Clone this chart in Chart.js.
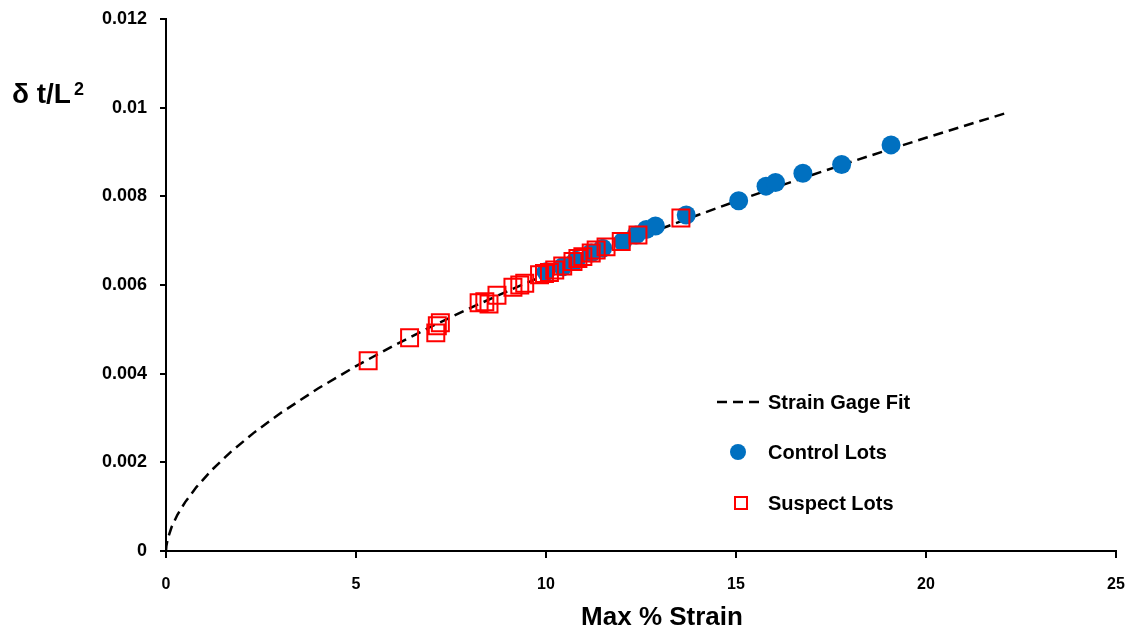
<!DOCTYPE html>
<html lang="en">
<head>
  <meta charset="UTF-8">
  <script src="https://cdn.jsdelivr.net/npm/chart.js"></script>
  <title>Strain</title>
  <style>
    body { margin: 0; background: #fff; }
    #wrap { width: 1130px; height: 628px; }
  </style>
</head>
<body>
  <div id="wrap"><canvas id="grafico"></canvas></div>
<script>
  // fit curve
  var fitX = [0, 0.01, 0.05, 0.15, 0.3, 0.5, 0.8, 1.2, 1.7, 2.3, 3, 4, 5, 6, 7, 8, 9, 10, 11, 12, 13, 14, 15, 16, 17, 18, 19, 20, 21, 22.2];
  var fitY = [0, 0.000114, 0.000289, 0.000546, 0.000816, 0.001097, 0.001441, 0.001823, 0.002231, 0.002659, 0.003102, 0.003665, 0.004171, 0.004636, 0.005070, 0.005478, 0.005866, 0.006235, 0.006590, 0.006931, 0.007260, 0.007579, 0.007889, 0.008189, 0.008482, 0.008768, 0.009048, 0.009320, 0.009588, 0.009902];

  var controlX = [10.0, 10.44, 10.79, 11.19, 11.49, 12.02, 12.37, 12.64, 12.88, 13.69, 15.07, 15.79, 16.04, 16.76, 17.78, 19.08];
  var controlY = [0.00630, 0.00641, 0.00656, 0.00672, 0.00683, 0.00698, 0.00713, 0.00725, 0.00733, 0.00758, 0.00790, 0.00823, 0.00831, 0.00852, 0.00872, 0.00916];

  var suspectX = [5.32, 6.41, 7.10, 7.14, 7.22, 8.24, 8.39, 8.50, 8.71, 9.13, 9.31, 9.44, 9.83, 9.96, 10.09, 10.23, 10.44, 10.71, 10.84, 10.97, 11.19, 11.32, 11.58, 11.98, 12.42, 13.55];
  var suspectY = [0.00429, 0.00481, 0.00492, 0.00508, 0.00515, 0.00560, 0.00562, 0.00557, 0.00577, 0.00595, 0.00600, 0.00604, 0.00623, 0.00626, 0.00628, 0.00634, 0.00643, 0.00653, 0.00660, 0.00664, 0.00672, 0.00679, 0.00686, 0.00698, 0.00713, 0.00751];

  var legendas = ['Strain Gage Fit', 'Control Lots', 'Suspect Lots'];

  var azul = '#0070C0';
  var vermelho = '#FF0000';
  var fonteArial = "'Liberation Sans', Arial, sans-serif";

  function pares(xs, ys) {
    var out = [];
    for (let i = 0; i < xs.length; i++) {
      out.push({ x: xs[i], y: ys[i] });
    }
    return out;
  }

  // titles and legend drawn by hand, Excel style
  var textos = {
    id: 'textos',
    afterDraw: function (chart) {
      var ctx = chart.ctx;
      ctx.save();
      ctx.fillStyle = '#000';
      ctx.textBaseline = 'alphabetic';
      ctx.textAlign = 'left';

      ctx.font = 'bold 28px ' + fonteArial;
      ctx.fillText('δ t/L', 12, 103);
      ctx.font = 'bold 18px ' + fonteArial;
      ctx.fillText('2', 74, 95);

      ctx.font = 'bold 26px ' + fonteArial;
      ctx.textAlign = 'center';
      ctx.fillText('Max % Strain', 662, 625);

      // legend
      ctx.textAlign = 'left';
      ctx.textBaseline = 'middle';
      ctx.font = 'bold 20px ' + fonteArial;

      ctx.strokeStyle = '#000';
      ctx.lineWidth = 2.5;
      ctx.setLineDash([10, 6]);
      ctx.beginPath();
      ctx.moveTo(717, 402);
      ctx.lineTo(763, 402);
      ctx.stroke();
      ctx.setLineDash([]);
      ctx.fillText(legendas[0], 768, 403);

      ctx.fillStyle = azul;
      ctx.beginPath();
      ctx.arc(738, 452, 8, 0, Math.PI * 2);
      ctx.fill();
      ctx.fillStyle = '#000';
      ctx.fillText(legendas[1], 768, 453);

      ctx.strokeStyle = vermelho;
      ctx.lineWidth = 2;
      ctx.strokeRect(735, 497, 12, 12);
      ctx.fillText(legendas[2], 768, 504);
      ctx.restore();
    }
  };

  var dados = {
    datasets: [
      {
        label: legendas[2],
        data: pares(suspectX, suspectY),
        pointStyle: 'rect',
        pointRadius: 12,
        pointBorderWidth: 2,
        pointBorderColor: vermelho,
        pointBackgroundColor: 'rgba(0,0,0,0)',
        order: 1
      },
      {
        label: legendas[1],
        data: pares(controlX, controlY),
        pointStyle: 'circle',
        pointRadius: 9.5,
        pointBorderWidth: 0,
        pointBackgroundColor: azul,
        pointBorderColor: azul,
        order: 2
      },
      {
        label: legendas[0],
        data: pares(fitX, fitY),
        showLine: true,
        pointRadius: 0,
        borderColor: '#000',
        borderWidth: 2.5,
        borderDash: [10, 6],
        tension: 0,
        fill: false,
        order: 3
      }
    ]
  };

  var options = {
    responsive: true,
    maintainAspectRatio: false,
    animation: false,
    layout: { padding: { top: 19, right: 13, left: 0, bottom: 0 } },
    plugins: {
      legend: { display: false },
      tooltip: { enabled: false }
    },
    scales: {
      x: {
        type: 'linear',
        min: 0,
        max: 25,
        ticks: {
          stepSize: 5,
          color: '#000',
          padding: 17,
          font: { family: fonteArial, size: 16, weight: 'bold' }
        },
        grid: { display: true, drawOnChartArea: false, drawTicks: true, tickLength: 7, color: '#000', lineWidth: 2 },
        border: { display: true, color: '#000', width: 2 },
        afterFit: function (scale) {
          scale.height = 77;
          scale.paddingRight = 0;
        }
      },
      y: {
        type: 'linear',
        min: 0,
        max: 0.012,
        ticks: {
          stepSize: 0.002,
          color: '#000',
          padding: 13,
          font: { family: fonteArial, size: 18, weight: 'bold' },
          callback: function (value) {
            return String(+value.toFixed(3));
          }
        },
        grid: { display: true, drawOnChartArea: false, drawTicks: true, tickLength: 6, color: '#000', lineWidth: 2 },
        border: { display: true, color: '#000', width: 2 },
        afterFit: function (scale) {
          scale.width = 166;
          scale.paddingTop = 0;
          scale.paddingBottom = 0;
        }
      }
    }
  };

  new Chart(document.getElementById('grafico'), {
    type: 'scatter',
    data: dados,
    options: options,
    plugins: [textos]
  });
</script>
</body>
</html>
